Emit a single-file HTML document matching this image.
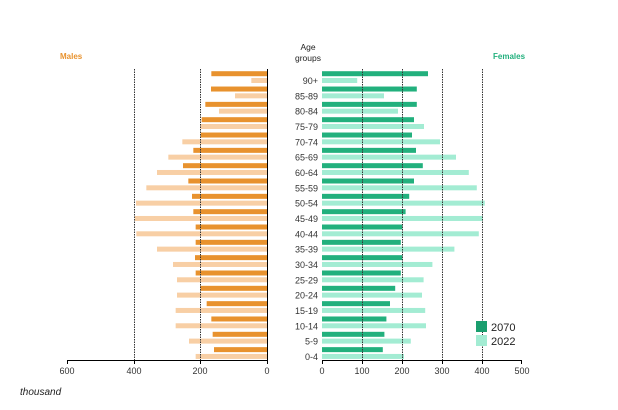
<!DOCTYPE html>
<html><head><meta charset="utf-8"><style>
body{margin:0;background:#fff}
svg{display:block;font-family:"Liberation Sans",sans-serif}
</style></head><body>
<svg id="s" width="618" height="410" viewBox="0 0 618 410" xmlns="http://www.w3.org/2000/svg">
<g id="bars"></g>
<g stroke="#333" stroke-width="1" stroke-dasharray="1.5,1">
<line x1="134.5" y1="69" x2="134.5" y2="360"/>
<line x1="200.5" y1="69" x2="200.5" y2="360"/>
<line x1="362.5" y1="69" x2="362.5" y2="360"/>
<line x1="402.5" y1="69" x2="402.5" y2="360"/>
<line x1="442.5" y1="69" x2="442.5" y2="360"/>
<line x1="482.5" y1="69" x2="482.5" y2="360"/>
</g>
<g stroke="#000" stroke-width="1">
<line x1="267.5" y1="69" x2="267.5" y2="360"/>
<line x1="67" y1="360.5" x2="268" y2="360.5"/>
<line x1="322" y1="360.5" x2="522" y2="360.5"/>
<line x1="67.5" y1="360" x2="67.5" y2="364"/><line x1="134.5" y1="360" x2="134.5" y2="364"/><line x1="200.5" y1="360" x2="200.5" y2="364"/><line x1="267.5" y1="360" x2="267.5" y2="364"/>
<line x1="322.5" y1="360" x2="322.5" y2="364"/><line x1="362.5" y1="360" x2="362.5" y2="364"/><line x1="402.5" y1="360" x2="402.5" y2="364"/><line x1="442.5" y1="360" x2="442.5" y2="364"/><line x1="482.5" y1="360" x2="482.5" y2="364"/><line x1="521.5" y1="360" x2="521.5" y2="364"/>
</g>
<g font-size="9" fill="#333" text-anchor="middle">
<text x="67" y="374">600</text><text x="134" y="374">400</text><text x="200" y="374">200</text><text x="267" y="374">0</text>
<text x="322" y="374">0</text><text x="362" y="374">100</text><text x="402" y="374">200</text><text x="442" y="374">300</text><text x="482" y="374">400</text><text x="522" y="374">500</text>
</g>
<text x="20" y="395" font-size="10" font-style="italic" fill="#222">thousand</text>
<text x="60" y="59" font-size="8" font-weight="bold" fill="#E8922E">Males</text>
<text x="493" y="59" font-size="8" font-weight="bold" fill="#22B07D">Females</text>
<text x="308" y="50" font-size="8.5" fill="#222" text-anchor="middle">Age</text>
<text x="308" y="61" font-size="8.5" fill="#222" text-anchor="middle">groups</text>
<g font-size="9" fill="#333" text-anchor="end">
<text x="318" y="84">90+</text><text x="318" y="99.3">85-89</text><text x="318" y="114.7">80-84</text><text x="318" y="130">75-79</text><text x="318" y="145.3">70-74</text><text x="318" y="160.7">65-69</text><text x="318" y="176">60-64</text><text x="318" y="191.3">55-59</text><text x="318" y="206.7">50-54</text><text x="318" y="222">45-49</text><text x="318" y="237.3">40-44</text><text x="318" y="252.7">35-39</text><text x="318" y="268">30-34</text><text x="318" y="283.3">25-29</text><text x="318" y="298.7">20-24</text><text x="318" y="314">15-19</text><text x="318" y="329.3">10-14</text><text x="318" y="344.7">5-9</text><text x="318" y="360">0-4</text>
</g>
<rect x="476" y="321" width="11" height="11" fill="#1a9e6e"/>
<rect x="476" y="335" width="11" height="11" fill="#a3ecd3"/>
<text x="491" y="331" font-size="11" fill="#222">2070</text>
<text x="491" y="345" font-size="11" fill="#222">2022</text>
</svg>
<script>
var md=[167,168,185,196,199,221,252,236,225,221,214,214,216,214,200,181,167,163,159];
var ml=[47,96,144,200,254,296,330,362,393,397,392,330,282,270,270,274,274,234,214];
var fd=[265,237,237,230,225,235,252,230,218,209,201,197,201,197,183,170,161,156,152];
var fl=[88,155,190,255,295,335,367,387,407,402,392,331,276,254,250,258,260,222,205];
var g=document.getElementById('bars'),h='';
for(var i=0;i<19;i++){var ly=80.7+i*15.33,dy=ly-9.5,ty=ly-2.7;
h+='<rect x="'+(267-md[i]/3)+'" y="'+dy+'" width="'+(md[i]/3)+'" height="5" fill="#E8922E"/>';
h+='<rect x="'+(267-ml[i]/3)+'" y="'+ty+'" width="'+(ml[i]/3)+'" height="5" fill="#F8CFA5"/>';
h+='<rect x="322" y="'+dy+'" width="'+(fd[i]*0.4)+'" height="5" fill="#22B07D"/>';
h+='<rect x="322" y="'+ty+'" width="'+(fl[i]*0.4)+'" height="5" fill="#A3ECD3"/>';}
g.innerHTML=h;
</script>
</body></html>
